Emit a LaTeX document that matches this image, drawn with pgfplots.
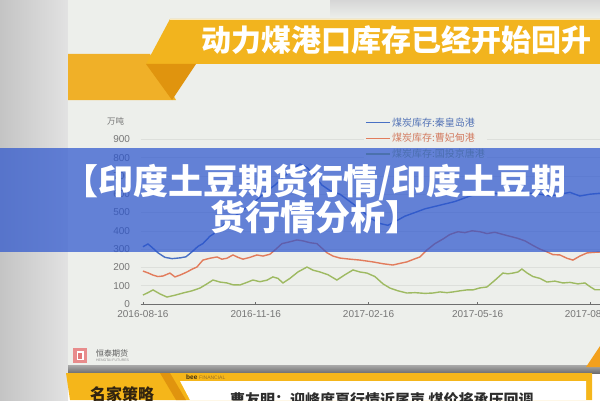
\documentclass[border=0pt]{standalone}
\usepackage{fontspec}
\setmainfont{Liberation Sans}
\newfontfamily\cjk{Noto Sans CJK SC}
\usepackage{pgfplots}
\pgfplotsset{compat=1.18}

\definecolor{blueS}{RGB}{72,112,196}
\definecolor{redS}{RGB}{226,124,92}
\definecolor{greenS}{RGB}{158,186,98}
\definecolor{gridc}{RGB}{221,223,219}
\definecolor{ticklab}{RGB}{118,118,118}
\definecolor{axisc}{RGB}{110,110,110}
\definecolor{slidebg}{RGB}{237,239,235}
\definecolor{orangeA}{RGB}{242,180,30}
\definecolor{orangeB}{RGB}{240,176,40}
\definecolor{orangeD}{RGB}{224,148,14}
\definecolor{orangeT}{RGB}{242,160,30}
\definecolor{ovl}{RGB}{41,83,206}
\definecolor{yel}{RGB}{245,182,26}
\definecolor{leftA}{RGB}{196,196,196}
\definecolor{leftB}{RGB}{226,226,226}
\definecolor{topg}{RGB}{214,214,214}
\definecolor{logoA}{RGB}{232,140,140}
\definecolor{logoB}{RGB}{226,120,120}
\definecolor{logot}{RGB}{90,90,90}
\definecolor{logoe}{RGB}{140,140,140}
\definecolor{shadA}{RGB}{170,170,170}
\definecolor{shadB}{RGB}{110,110,110}
\definecolor{darkt}{RGB}{50,36,16}
\definecolor{beet}{RGB}{60,45,20}
\definecolor{finc}{RGB}{150,110,40}
\definecolor{boxt}{RGB}{45,45,45}

\begin{document}
\begin{tikzpicture}
\useasboundingbox (0,0) rectangle (600pt,400pt);
\clip (0,0) rectangle (600pt,400pt);

% photo background, slide and title banner (pixel coordinates, y downwards)
\begin{scope}[x=1pt,y=-1pt,yshift=400pt]
  \fill[left color=leftA, right color=leftB] (0,0) rectangle (68,400);
  \fill[slidebg] (68,0) rectangle (600,366);
  \fill[top color=topg, bottom color=slidebg] (330,0) rectangle (600,18);
  \fill[orangeB] (68,54) -- (150,54) -- (176,100) -- (68,100) -- cycle;
  \fill[orangeA] (170,19) -- (600,19) -- (600,64) -- (146,64) -- cycle;
  \fill[orangeD] (146,64) -- (196,64) -- (172,100) -- cycle;
  \draw[white!70!orangeA, line width=1pt] (170,19.5) -- (600,19.5);
  \node[white, font=\cjk\bfseries\fontsize{30}{30}\selectfont] at (396,40) {动力煤港口库存已经开始回升};
  \node[anchor=west, text=ticklab, font=\cjk\fontsize{8.5}{10}\selectfont, inner sep=0pt] at (107,121) {万吨};
\end{scope}

\begin{axis}[
  at={(140.5pt,96pt)}, anchor=south west,
  scale only axis, width=459.5pt, height=164.7pt,
  xmin=-2, xmax=372.8, ymin=0, ymax=900,
  axis lines*=left,
  y axis line style={draw=none},
  x axis line style={draw=axisc, line width=0.8pt},
  ytick={0,100,...,900},
  ytick style={draw=none},
  xtick={0,92,184,273,365},
  xticklabels={2016-08-16,2016-11-16,2017-02-16,2017-05-16,2017-08-16},
  xtick style={draw=axisc, line width=0.8pt},
  tick align=inside, major tick length=2pt,
  ymajorgrids, grid style={draw=gridc, line width=0.6pt},
  tick label style={text=ticklab, font=\fontsize{10}{12}\selectfont},
  /pgf/number format/assume math mode=true,
  yticklabel style={xshift=-7pt},
  xticklabel style={yshift=-3pt},
  legend style={at={(0.4864,1.1475)}, anchor=north west, draw=none, fill=slidebg,
    font=\cjk\fontsize{10}{12}\selectfont, row sep=2.8pt, inner sep=1pt,
    nodes={inner sep=1.5pt}},
  legend cell align=left,
  legend image code/.code={\draw[#1] (0pt,0pt) -- (24pt,0pt);},
]
\addplot[blueS, line width=1.4pt] coordinates {
(0,313) (4.1,328) (7.3,310) (12.2,280) (17.9,255) (23.7,248) (30.2,252) (35.1,258)
(40.0,285) (44.9,315) (48.9,330) (54.6,370) (61.2,400) (66.9,440) (75.0,480)
(83.2,520) (91.4,560) (99.5,610) (107.7,650) (115.8,700) (122.3,740) (128.1,765)
(133.8,745) (140.3,700) (146.0,650) (152.5,620) (160.7,600) (168.8,560) (177.0,520)
(185.2,470) (193.3,440) (199.8,430) (205.5,450) (213.7,480) (221.9,500) (230.0,520)
(242.3,540) (254.5,560) (266.7,590) (274.9,605) (283.0,610) (291.2,600) (299.3,615)
(307.5,620) (315.7,605) (323.8,600) (332.0,590) (340.1,600) (348.3,610) (356.4,590)
(364.6,600) (372.8,605) (378,600)
};
\addlegendentry[text=blueS!80!gray]{煤炭库存:秦皇岛港}
\addplot[redS, line width=1.4pt] coordinates {
(0,180) (4.1,170) (8.2,158) (12.2,150) (16.3,153) (22.0,169) (26.1,148) (31.0,160)
(35.9,175) (40.0,190) (44.0,202) (48.9,240) (54.6,250) (60.4,257) (64.4,245)
(68.5,250) (73.4,268) (77.5,255) (81.6,245) (87.3,255) (93.0,268) (97.9,262)
(103.6,272) (108.5,300) (113.4,330) (119.9,340) (125.6,350) (130.5,345) (136.2,335)
(141.9,330) (146.0,305) (150.1,280) (155.0,262) (160.7,251) (168.8,245) (177.0,240)
(187.6,230) (195.8,220) (203.9,213) (209.6,222) (215.3,230) (221.0,245) (225.9,257)
(231.6,295) (238.2,330) (244.7,355) (250.4,380) (256.9,395) (262.6,390) (268.4,400)
(274.9,395) (280.6,385) (287.1,392) (293.6,380) (299.3,370) (305.1,360) (311.6,345)
(318.1,320) (323.8,300) (329.5,285) (334.4,270) (340.1,268) (345.8,250) (350.7,240)
(356.4,262) (362.2,279) (367.0,282) (372.8,284) (378,285)
};
\addlegendentry[text=redS!85!gray]{煤炭库存:曹妃甸港}
\addplot[greenS, line width=1.4pt] coordinates {
(0,49) (4.1,62) (8.2,77) (13.9,55) (19.6,38) (26.1,48) (32.6,60) (40.0,72) (46.5,87)
(52.2,110) (57.1,131) (62.8,120) (68.5,115) (73.4,105) (79.1,104) (84.8,118)
(89.7,131) (95.4,122) (101.1,130) (106.0,148) (110.1,140) (114.2,115) (119.9,140)
(126.4,175) (133.8,202) (138.7,185) (144.4,175) (150.9,160) (158.2,131) (164.8,160)
(171.3,186) (177.0,175) (182.7,169) (189.2,150) (195.8,110) (201.5,87) (208.0,72)
(215.3,60) (221.9,62) (230.0,58) (236.5,60) (242.3,66) (248.0,62) (252.9,66)
(258.6,72) (264.3,77) (269.2,77) (274.9,88) (280.6,93) (287.1,130) (293.6,169)
(297.7,165) (301.8,169) (305.9,175) (309.1,191) (313.2,170) (318.1,150) (323.8,140)
(329.5,120) (336.0,125) (342.6,115) (348.3,118) (354.8,110) (360.5,115) (364.6,95)
(368.7,78) (372.8,78) (378,76)
};
\addlegendentry[text=greenS!85!gray]{煤炭库存:国投京唐港}
\end{axis}

% overlay banner and bottom strip
\begin{scope}[x=1pt,y=-1pt,yshift=400pt]
  \fill[ovl, fill opacity=0.7] (0,148) rectangle (600,252);
  \node[white, font=\cjk\bfseries\fontsize{35}{35}\selectfont] at (315,183) {【印度土豆期货行情/印度土豆期};
  \node[white, font=\cjk\bfseries\fontsize{35}{35}\selectfont] at (315,217) {货行情分析】};
  % logo
  \fill[logoA] (73,348) rectangle (87,363);
  \fill[white] (76.5,351) rectangle (83.5,360);
  \fill[logoB] (78,352.5) rectangle (82,358.5);
  \node[anchor=west, font=\cjk\fontsize{8}{9}\selectfont, text=logot, inner sep=0pt] at (96,353) {恒泰期货};
  \node[anchor=west, font=\fontsize{3.5}{4}\selectfont, text=logoe, inner sep=0pt] at (96,360) {HENGTAI FUTURES};
  % frame shadow and yellow strip
  \fill[top color=shadA, bottom color=shadB] (68,365) rectangle (600,373);
  \fill[yel] (66,373) -- (592,373) -- (592,400) -- (70,400) -- cycle;
  \fill[white] (180,381) -- (586,381) -- (586,400) -- (190,400) -- cycle;
  \fill[orangeD] (160,373) -- (170,373) -- (186,400) -- (176,400) -- cycle;
  \fill[orangeT] (586,367) -- (600,346) -- (600,367) -- cycle;
  \node[font=\cjk\bfseries\fontsize{16}{16}\selectfont, text=darkt] at (122,394) {名家策略};
  \node[anchor=west, inner sep=0pt, text=beet] at (186,377.5) {\fontsize{6.5}{7}\selectfont\bfseries bee\ \fontsize{5}{6}\selectfont\mdseries\color{finc}FINANCIAL};
  \node[anchor=west, inner sep=0pt, font=\cjk\bfseries\fontsize{15}{15}\selectfont, text=boxt] at (230,400) {曹友明：迎峰度夏行情近尾声 煤价将承压回调};
\end{scope}
\end{tikzpicture}
\end{document}
